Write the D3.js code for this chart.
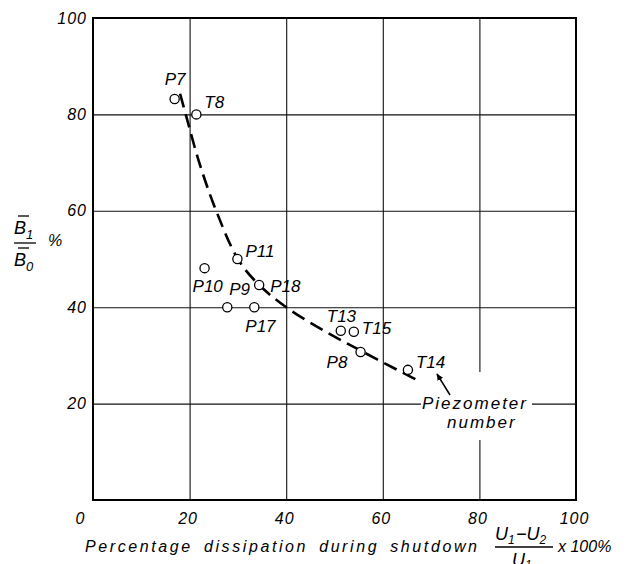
<!DOCTYPE html>
<meta charset="utf-8">
<style>
body { margin: 0; background: #fff; }
svg text { font-family: "Liberation Sans", Arial, sans-serif; font-style: italic; fill: #000; }
.grid line { stroke: #111; stroke-width: 1.1; }
.grid path { display: none; }
.tick text { font-size: 16px; letter-spacing: 1px; }
.lbl { font-size: 17px; }
</style>
<body>
<script src="https://d3js.org/d3.v7.min.js"></script>
<script>

// data
var xTicks = [0, 20, 40, 60, 80, 100];
var yTicks = [20, 40, 60, 80, 100];

var pointNames = ["P7", "T8", "P11", "P10", "P9", "P18", "P17", "T13", "T15", "P8", "T14"];
var pointX = [16.9, 21.4, 29.9, 23.1, 27.8, 34.4, 33.4, 51.3, 54.0, 55.4, 65.2];
var pointY = [83.2, 80.0, 50.0, 48.1, 40.0, 44.6, 40.0, 35.1, 34.9, 30.7, 27.0];

var curveX = [17.7, 19.2, 22, 25.5, 30, 34, 40, 48, 55.4, 63, 70.4];
var curveY = [85.5, 80, 70, 60, 50, 45, 40, 35, 31, 27, 23.2];

// label placement (px, from point centre to text start / baseline)
var labelOffsets = [[-10, -14], [8, -6], [8, -2], [-12, 24], [2, -12], [11, 7],
                    [-9, 25], [-14, -9], [8, 2], [-34, 16], [8, -2]];

var W = 628, H = 564;
var pLeft = 93, pRight = 576, pTop = 18, pBottom = 500;

var svg = d3.select("body").append("svg")
    .attr("width", W)
    .attr("height", H);

var x = d3.scaleLinear().domain([0, 100]).range([pLeft, pRight]);
var y = d3.scaleLinear().domain([0, 100]).range([pBottom, pTop]);

// grid
svg.append("g")
    .attr("class", "grid")
    .attr("transform", "translate(0," + pBottom + ")")
    .call(d3.axisBottom(x).tickValues([20, 40, 60, 80]).tickSize(-(pBottom - pTop)).tickFormat(""));

svg.append("g")
    .attr("class", "grid")
    .attr("transform", "translate(" + pLeft + ",0)")
    .call(d3.axisLeft(y).tickValues([20, 40, 60, 80]).tickSize(-(pRight - pLeft)).tickFormat(""));

// tick labels
var xAx = svg.append("g")
    .attr("transform", "translate(0," + pBottom + ")")
    .call(d3.axisBottom(x).tickValues(xTicks).tickSize(0).tickPadding(13));
xAx.select(".domain").remove();
xAx.selectAll(".tick text").attr("dx", function(d) { return d === 0 ? -13 : -2; });

var yAx = svg.append("g")
    .attr("transform", "translate(" + pLeft + ",0)")
    .call(d3.axisLeft(y).tickValues(yTicks).tickSize(0).tickPadding(6));
yAx.select(".domain").remove();

// the curve
var line = d3.line()
    .x(function(d) { return x(d[0]); })
    .y(function(d) { return y(d[1]); })
    .curve(d3.curveCatmullRom);

var curve = svg.append("path")
    .datum(d3.zip(curveX, curveY))
    .attr("d", line)
    .attr("fill", "none")
    .attr("stroke", "#000")
    .attr("stroke-width", 2.6)
    .attr("stroke-dasharray", "14,7");

// make the dash pattern end on a dash
var len = curve.node().getTotalLength();
curve.attr("stroke-dashoffset", ((13 - len) % 21 + 21) % 21);

// frame
svg.append("rect")
    .attr("x", pLeft).attr("y", pTop)
    .attr("width", pRight - pLeft).attr("height", pBottom - pTop)
    .attr("fill", "none")
    .attr("stroke", "#000")
    .attr("stroke-width", 2);

// points
var pts = pointNames.map(function(n, i) { return {name: n, x: pointX[i], y: pointY[i], off: labelOffsets[i]}; });

svg.selectAll(".dot")
    .data(pts)
  .enter().append("circle")
    .attr("class", "dot")
    .attr("cx", function(d) { return x(d.x); })
    .attr("cy", function(d) { return y(d.y); })
    .attr("r", 4.6)
    .attr("fill", "#fff")
    .attr("stroke", "#000")
    .attr("stroke-width", 1.3);

svg.selectAll(".plbl")
    .data(pts)
  .enter().append("text")
    .attr("class", "lbl")
    .attr("x", function(d) { return x(d.x) + d.off[0]; })
    .attr("y", function(d) { return y(d.y) + d.off[1]; })
    .text(function(d) { return d.name; });

// "Piezometer number" note
svg.append("rect")
    .attr("x", 421).attr("y", 372).attr("width", 111).attr("height", 68)
    .attr("fill", "#fff");

svg.append("defs").append("marker")
    .attr("id", "arr")
    .attr("viewBox", "0 0 10 10")
    .attr("refX", 9).attr("refY", 5)
    .attr("markerWidth", 7).attr("markerHeight", 7)
    .attr("markerUnits", "userSpaceOnUse")
    .attr("orient", "auto")
  .append("path")
    .attr("d", "M0,0.5L10,5L0,9.5z")
    .attr("fill", "#000");

svg.append("line")
    .attr("x1", 450).attr("y1", 395).attr("x2", 437).attr("y2", 374)
    .attr("stroke", "#000").attr("stroke-width", 1.5)
    .attr("marker-end", "url(#arr)");

svg.append("text").attr("class", "lbl")
    .attr("x", 422).attr("y", 409)
    .style("letter-spacing", "2px")
    .text("Piezometer");
svg.append("text").attr("class", "lbl")
    .attr("x", 447).attr("y", 428)
    .style("letter-spacing", "2px")
    .text("number");

// y-axis title: B1 over B0 %
var yt = svg.append("g");
yt.append("text").attr("x", 14).attr("y", 234).style("font-size", "18px")
    .text("B").append("tspan").attr("dy", 5).style("font-size", "13px").text("1");
yt.append("line").attr("x1", 18).attr("x2", 29).attr("y1", 216).attr("y2", 216).attr("stroke", "#000").attr("stroke-width", 1.3);
yt.append("line").attr("x1", 14).attr("x2", 36).attr("y1", 243).attr("y2", 243).attr("stroke", "#000").attr("stroke-width", 1.3);
yt.append("line").attr("x1", 18).attr("x2", 29).attr("y1", 248).attr("y2", 248).attr("stroke", "#000").attr("stroke-width", 1.3);
yt.append("text").attr("x", 14).attr("y", 266).style("font-size", "18px")
    .text("B").append("tspan").attr("dy", 5).style("font-size", "13px").text("0");
yt.append("text").attr("x", 48).attr("y", 246).style("font-size", "16px").text("%");

// x-axis title
svg.append("text")
    .attr("x", 85).attr("y", 552)
    .style("font-size", "16px")
    .style("letter-spacing", "2.6px")
    .style("word-spacing", "4px")
    .text("Percentage dissipation during shutdown");

var xt = svg.append("g");
xt.append("text").attr("x", 495).attr("y", 540).style("font-size", "18px")
    .text("U").append("tspan").attr("dy", 4).style("font-size", "12px").text("1");
xt.append("text").attr("x", 516).attr("y", 540).style("font-size", "18px").text("\u2212U")
    .append("tspan").attr("dy", 4).style("font-size", "12px").text("2");
xt.append("line").attr("x1", 495).attr("x2", 553).attr("y1", 547).attr("y2", 547).attr("stroke", "#000").attr("stroke-width", 1.3);
xt.append("text").attr("x", 512).attr("y", 566).style("font-size", "18px")
    .text("U").append("tspan").attr("dy", 3).style("font-size", "12px").text("1");
xt.append("text").attr("x", 558).attr("y", 552).style("font-size", "16px").text("x 100%");

</script>
</body>
